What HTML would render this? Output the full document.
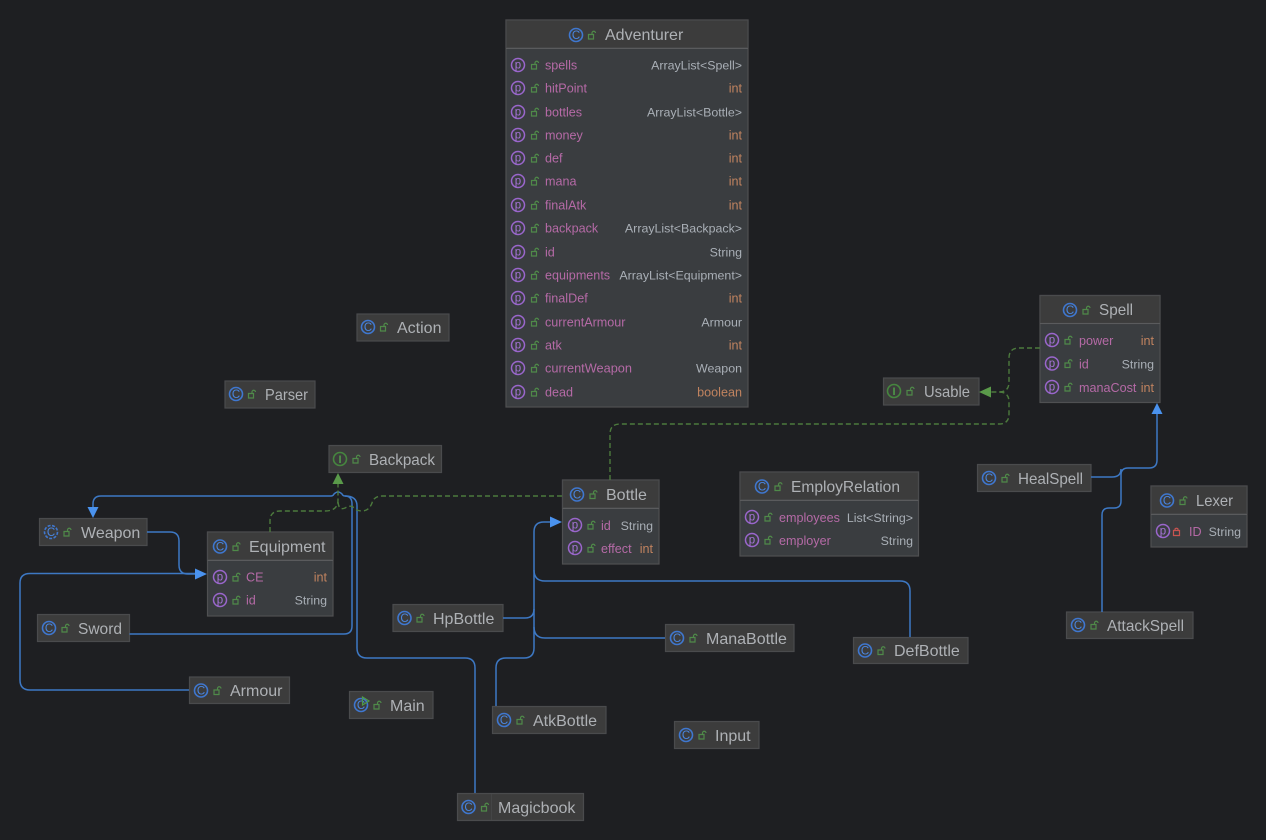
<!DOCTYPE html>
<html><head><meta charset="utf-8"><style>
html,body{margin:0;padding:0;background:#1e1f22;width:1266px;height:840px;overflow:hidden}
svg{display:block}
text{font-family:"Liberation Sans",sans-serif}
.h{fill:#3c3c3c;stroke:#4a4b4d;stroke-width:1.2}
.b{fill:#3a3d40;stroke:#4f5052;stroke-width:1.2}
.s{stroke:#5a5b5d;stroke-width:1}
.t{font-size:16px;fill:#aeb1b5}
.n{font-size:12.600px;fill:#b56aa6}
.y{font-size:12.400px;fill:#a9afb6;text-anchor:end}
.i{font-size:12.600px;fill:#c0835f;text-anchor:end}
.cc{fill:none;stroke:#3f77cf;stroke-width:1.600}
.ct{font-size:11.500px;fill:#4a86e0;text-anchor:middle}
.gc{fill:none;stroke:#46863f;stroke-width:1.600}
.gt{font-size:11px;fill:#4f9a48;text-anchor:middle;font-weight:bold}
.pc{fill:none;stroke:#9a66cc;stroke-width:1.500}
.pt{font-size:11.500px;fill:#a674d8;text-anchor:middle}
.l{fill:none;stroke:#4f8a49;stroke-width:1.200}
.bl{fill:none;stroke:#3d78c4;stroke-width:1.500}
.gd{fill:none;stroke:#4c7a3d;stroke-width:1.400;stroke-dasharray:5 3}
</style></head><body>
<svg width="1266" height="840" viewBox="0 0 1266 840" xmlns="http://www.w3.org/2000/svg">
<rect width="1266" height="840" fill="#1e1f22"/>

<!-- Adventurer -->
<rect class="b" x="506" y="20" width="242" height="387"/>
<rect class="h" x="506" y="20" width="242" height="28"/>
<line class="s" x1="506" y1="48.500" x2="748" y2="48.500"/>
<circle class="cc" cx="576" cy="35" r="6.500"/><text class="ct" x="576" y="39">C</text>
<path class="l" d="M588.500 34.500h5v4.500h-5zM592 34.500v-1.500a1.700 1.700 0 0 1 3.500 0"/>
<text class="t" x="605" y="40">Adventurer</text>

<circle class="pc" cx="518" cy="65" r="6.500"/><text class="pt" x="518" y="68.500">p</text><path class="l" d="M531.500 64.500h5v4.500h-5zM535 64.500v-1.500a1.700 1.700 0 0 1 3.500 0"/><text class="n" x="545" y="69.500">spells</text><text class="y" x="742" y="69.500">ArrayList&lt;Spell&gt;</text>
<circle class="pc" cx="518" cy="88" r="6.500"/><text class="pt" x="518" y="91.500">p</text><path class="l" d="M531.500 87.500h5v4.500h-5zM535 87.500v-1.500a1.700 1.700 0 0 1 3.500 0"/><text class="n" x="545" y="92.500">hitPoint</text><text class="i" x="742" y="92.500">int</text>
<circle class="pc" cx="518" cy="112" r="6.500"/><text class="pt" x="518" y="115.500">p</text><path class="l" d="M531.500 111.500h5v4.500h-5zM535 111.500v-1.500a1.700 1.700 0 0 1 3.500 0"/><text class="n" x="545" y="116.500">bottles</text><text class="y" x="742" y="116.500">ArrayList&lt;Bottle&gt;</text>
<circle class="pc" cx="518" cy="135" r="6.500"/><text class="pt" x="518" y="138.500">p</text><path class="l" d="M531.500 134.500h5v4.500h-5zM535 134.500v-1.500a1.700 1.700 0 0 1 3.500 0"/><text class="n" x="545" y="139.500">money</text><text class="i" x="742" y="139.500">int</text>
<circle class="pc" cx="518" cy="158" r="6.500"/><text class="pt" x="518" y="161.500">p</text><path class="l" d="M531.500 157.500h5v4.500h-5zM535 157.500v-1.500a1.700 1.700 0 0 1 3.500 0"/><text class="n" x="545" y="162.500">def</text><text class="i" x="742" y="162.500">int</text>
<circle class="pc" cx="518" cy="181" r="6.500"/><text class="pt" x="518" y="184.500">p</text><path class="l" d="M531.500 180.500h5v4.500h-5zM535 180.500v-1.500a1.700 1.700 0 0 1 3.500 0"/><text class="n" x="545" y="185.500">mana</text><text class="i" x="742" y="185.500">int</text>
<circle class="pc" cx="518" cy="205" r="6.500"/><text class="pt" x="518" y="208.500">p</text><path class="l" d="M531.500 204.500h5v4.500h-5zM535 204.500v-1.500a1.700 1.700 0 0 1 3.500 0"/><text class="n" x="545" y="209.500">finalAtk</text><text class="i" x="742" y="209.500">int</text>
<circle class="pc" cx="518" cy="228" r="6.500"/><text class="pt" x="518" y="231.500">p</text><path class="l" d="M531.500 227.500h5v4.500h-5zM535 227.500v-1.500a1.700 1.700 0 0 1 3.500 0"/><text class="n" x="545" y="232.500">backpack</text><text class="y" x="742" y="232.500">ArrayList&lt;Backpack&gt;</text>
<circle class="pc" cx="518" cy="252" r="6.500"/><text class="pt" x="518" y="255.500">p</text><path class="l" d="M531.500 251.500h5v4.500h-5zM535 251.500v-1.500a1.700 1.700 0 0 1 3.500 0"/><text class="n" x="545" y="256.500">id</text><text class="y" x="742" y="256.500">String</text>
<circle class="pc" cx="518" cy="275" r="6.500"/><text class="pt" x="518" y="278.500">p</text><path class="l" d="M531.500 274.500h5v4.500h-5zM535 274.500v-1.500a1.700 1.700 0 0 1 3.500 0"/><text class="n" x="545" y="279.500">equipments</text><text class="y" x="742" y="279.500">ArrayList&lt;Equipment&gt;</text>
<circle class="pc" cx="518" cy="298" r="6.500"/><text class="pt" x="518" y="301.500">p</text><path class="l" d="M531.500 297.500h5v4.500h-5zM535 297.500v-1.500a1.700 1.700 0 0 1 3.500 0"/><text class="n" x="545" y="302.500">finalDef</text><text class="i" x="742" y="302.500">int</text>
<circle class="pc" cx="518" cy="322" r="6.500"/><text class="pt" x="518" y="325.500">p</text><path class="l" d="M531.500 321.500h5v4.500h-5zM535 321.500v-1.500a1.700 1.700 0 0 1 3.500 0"/><text class="n" x="545" y="326.500">currentArmour</text><text class="y" x="742" y="326.500">Armour</text>
<circle class="pc" cx="518" cy="345" r="6.500"/><text class="pt" x="518" y="348.500">p</text><path class="l" d="M531.500 344.500h5v4.500h-5zM535 344.500v-1.500a1.700 1.700 0 0 1 3.500 0"/><text class="n" x="545" y="349.500">atk</text><text class="i" x="742" y="349.500">int</text>
<circle class="pc" cx="518" cy="368" r="6.500"/><text class="pt" x="518" y="371.500">p</text><path class="l" d="M531.500 367.500h5v4.500h-5zM535 367.500v-1.500a1.700 1.700 0 0 1 3.500 0"/><text class="n" x="545" y="372.500" textLength="87" lengthAdjust="spacingAndGlyphs">currentWeapon</text><text class="y" x="742" y="372.500" textLength="46" lengthAdjust="spacingAndGlyphs">Weapon</text>
<circle class="pc" cx="518" cy="392" r="6.500"/><text class="pt" x="518" y="395.500">p</text><path class="l" d="M531.500 391.500h5v4.500h-5zM535 391.500v-1.500a1.700 1.700 0 0 1 3.500 0"/><text class="n" x="545" y="396.500">dead</text><text class="i" x="742" y="396.500">boolean</text>

<!-- Spell -->
<rect class="b" x="1040" y="295.500" width="120" height="107"/>
<rect class="h" x="1040" y="295.500" width="120" height="28"/>
<line class="s" x1="1040" y1="323.500" x2="1160" y2="323.500"/>
<circle class="cc" cx="1070" cy="310" r="6.500"/><text class="ct" x="1070" y="314">C</text>
<path class="l" d="M1083 309.500h5v4.500h-5zM1086.500 309.500v-1.500a1.700 1.700 0 0 1 3.500 0"/>
<text class="t" x="1099" y="315" textLength="34" lengthAdjust="spacingAndGlyphs">Spell</text>
<circle class="pc" cx="1052" cy="340" r="6.500"/><text class="pt" x="1052" y="343.500">p</text><path class="l" d="M1065 339.500h5v4.500h-5zM1068.500 339.500v-1.500a1.700 1.700 0 0 1 3.500 0"/><text class="n" x="1079" y="345">power</text><text class="i" x="1154" y="345">int</text>
<circle class="pc" cx="1052" cy="363.500" r="6.500"/><text class="pt" x="1052" y="367">p</text><path class="l" d="M1065 363h5v4.500h-5zM1068.500 363v-1.500a1.700 1.700 0 0 1 3.500 0"/><text class="n" x="1079" y="368.500">id</text><text class="y" x="1154" y="368.500">String</text>
<circle class="pc" cx="1052" cy="387" r="6.500"/><text class="pt" x="1052" y="390.500">p</text><path class="l" d="M1065 386.500h5v4.500h-5zM1068.500 386.500v-1.500a1.700 1.700 0 0 1 3.500 0"/><text class="n" x="1079" y="392">manaCost</text><text class="i" x="1154" y="392">int</text>

<!-- Equipment -->
<rect class="b" x="207.500" y="532" width="125.500" height="84"/>
<rect class="h" x="207.500" y="532" width="125.500" height="28"/>
<line class="s" x1="207.500" y1="560.500" x2="333" y2="560.500"/>
<circle class="cc" cx="220" cy="546.500" r="6.500"/><text class="ct" x="220" y="550.500">C</text>
<path class="l" d="M233 546h5v4.500h-5zM236.500 546v-1.500a1.700 1.700 0 0 1 3.500 0"/>
<text class="t" x="249" y="552">Equipment</text>
<circle class="pc" cx="220" cy="577" r="6.500"/><text class="pt" x="220" y="580.500">p</text><path class="l" d="M233 576.500h5v4.500h-5zM236.500 576.500v-1.500a1.700 1.700 0 0 1 3.500 0"/><text class="n" x="246" y="581.500">CE</text><text class="i" x="327" y="581.500">int</text>
<circle class="pc" cx="220" cy="600" r="6.500"/><text class="pt" x="220" y="603.500">p</text><path class="l" d="M233 599.500h5v4.500h-5zM236.500 599.500v-1.500a1.700 1.700 0 0 1 3.500 0"/><text class="n" x="246" y="604.500">id</text><text class="y" x="327" y="604.500">String</text>

<!-- Bottle -->
<rect class="b" x="562.500" y="480" width="96.500" height="84"/>
<rect class="h" x="562.500" y="480" width="96.500" height="28"/>
<line class="s" x1="562.500" y1="508.500" x2="659" y2="508.500"/>
<circle class="cc" cx="577" cy="494.500" r="6.500"/><text class="ct" x="577" y="498.500">C</text>
<path class="l" d="M590 494h5v4.500h-5zM593.500 494v-1.500a1.700 1.700 0 0 1 3.500 0"/>
<text class="t" x="606" y="500">Bottle</text>
<circle class="pc" cx="575" cy="525" r="6.500"/><text class="pt" x="575" y="528.500">p</text><path class="l" d="M588 524.500h5v4.500h-5zM591.500 524.500v-1.500a1.700 1.700 0 0 1 3.500 0"/><text class="n" x="601" y="530">id</text><text class="y" x="653" y="530">String</text>
<circle class="pc" cx="575" cy="548" r="6.500"/><text class="pt" x="575" y="551.500">p</text><path class="l" d="M588 547.500h5v4.500h-5zM591.500 547.500v-1.500a1.700 1.700 0 0 1 3.500 0"/><text class="n" x="601" y="553">effect</text><text class="i" x="653" y="553">int</text>

<!-- EmployRelation -->
<rect class="b" x="740" y="472" width="178.500" height="84"/>
<rect class="h" x="740" y="472" width="178.500" height="28"/>
<line class="s" x1="740" y1="500.500" x2="918.500" y2="500.500"/>
<circle class="cc" cx="762" cy="486.500" r="6.500"/><text class="ct" x="762" y="490.500">C</text>
<path class="l" d="M775 486h5v4.500h-5zM778.500 486v-1.500a1.700 1.700 0 0 1 3.500 0"/>
<text class="t" x="791" y="492" textLength="109" lengthAdjust="spacingAndGlyphs">EmployRelation</text>
<circle class="pc" cx="752" cy="517" r="6.500"/><text class="pt" x="752" y="520.500">p</text><path class="l" d="M765 516.500h5v4.500h-5zM768.500 516.500v-1.500a1.700 1.700 0 0 1 3.500 0"/><text class="n" x="779" y="522">employees</text><text class="y" x="913" y="522">List&lt;String&gt;</text>
<circle class="pc" cx="752" cy="540" r="6.500"/><text class="pt" x="752" y="543.500">p</text><path class="l" d="M765 539.500h5v4.500h-5zM768.500 539.500v-1.500a1.700 1.700 0 0 1 3.500 0"/><text class="n" x="779" y="545">employer</text><text class="y" x="913" y="545">String</text>

<!-- Lexer -->
<rect class="b" x="1151" y="486" width="96" height="61"/>
<rect class="h" x="1151" y="486" width="96" height="28"/>
<line class="s" x1="1151" y1="514.500" x2="1247" y2="514.500"/>
<circle class="cc" cx="1167" cy="500.500" r="6.500"/><text class="ct" x="1167" y="504.500">C</text>
<path class="l" d="M1180 500h5v4.500h-5zM1183.500 500v-1.500a1.700 1.700 0 0 1 3.500 0"/>
<text class="t" x="1196" y="506" textLength="37" lengthAdjust="spacingAndGlyphs">Lexer</text>
<circle class="pc" cx="1163" cy="531" r="6.500"/><text class="pt" x="1163" y="534.500">p</text>
<path d="M1173.500 530.500h6v5h-6zM1175 530.500v-1.500a1.900 1.900 0 0 1 3 0v1.500" fill="none" stroke="#c75450" stroke-width="1.200"/>
<text class="n" x="1189" y="536">ID</text><text class="y" x="1241" y="536">String</text>

<!-- simple nodes -->
<rect class="h" x="357" y="314" width="92" height="27"/><circle class="cc" cx="368" cy="327" r="6.500"/><text class="ct" x="368" y="331">C</text><path class="l" d="M380.500 326.500h5v4.500h-5zM384 326.500v-1.500a1.700 1.700 0 0 1 3.500 0"/><text class="t" x="397" y="333">Action</text>
<rect class="h" x="225" y="381" width="90" height="27"/><circle class="cc" cx="236" cy="394" r="6.500"/><text class="ct" x="236" y="398">C</text><path class="l" d="M248.500 393.500h5v4.500h-5zM252 393.500v-1.500a1.700 1.700 0 0 1 3.500 0"/><text class="t" x="265" y="400" textLength="43" lengthAdjust="spacingAndGlyphs">Parser</text>
<rect class="h" x="883.500" y="378" width="95.500" height="27"/><circle class="gc" cx="894" cy="391" r="6.500"/><text class="gt" x="894" y="395">I</text><path class="l" d="M907 390.500h5v4.500h-5zM910.500 390.500v-1.500a1.700 1.700 0 0 1 3.500 0"/><text class="t" x="924" y="397" textLength="46" lengthAdjust="spacingAndGlyphs">Usable</text>
<rect class="h" x="329" y="445.500" width="112.500" height="27"/><circle class="gc" cx="340" cy="459" r="6.500"/><text class="gt" x="340" y="463">I</text><path class="l" d="M353 458.500h5v4.500h-5zM356.500 458.500v-1.500a1.700 1.700 0 0 1 3.500 0"/><text class="t" x="369" y="465" textLength="66" lengthAdjust="spacingAndGlyphs">Backpack</text>
<rect class="h" x="39.500" y="518.500" width="107.500" height="27"/><circle class="cc" cx="51" cy="532" r="6.500" stroke-dasharray="3 1.500"/><text class="ct" x="51" y="536">C</text><path class="l" d="M64 531.500h5v4.500h-5zM67.500 531.500v-1.500a1.700 1.700 0 0 1 3.500 0"/><text class="t" x="81" y="538">Weapon</text>
<rect class="h" x="37.500" y="614.500" width="92" height="27"/><circle class="cc" cx="49" cy="628" r="6.500"/><text class="ct" x="49" y="632">C</text><path class="l" d="M62 627.500h5v4.500h-5zM65.500 627.500v-1.500a1.700 1.700 0 0 1 3.500 0"/><text class="t" x="78" y="634" textLength="44" lengthAdjust="spacingAndGlyphs">Sword</text>
<rect class="h" x="189.500" y="677" width="100" height="26.500"/><circle class="cc" cx="201" cy="690.500" r="6.500"/><text class="ct" x="201" y="694.500">C</text><path class="l" d="M214 690h5v4.500h-5zM217.500 690v-1.500a1.700 1.700 0 0 1 3.500 0"/><text class="t" x="230" y="696">Armour</text>
<rect class="h" x="349.500" y="691.500" width="83.500" height="27"/><circle class="cc" cx="361" cy="705" r="6.500"/><text class="ct" x="361" y="709">C</text><path d="M362.500 697l6.500 4-6.500 4z" fill="none" stroke="#4f9a48" stroke-width="1.200"/><path class="l" d="M374 704.500h5v4.500h-5zM377.500 704.500v-1.500a1.700 1.700 0 0 1 3.500 0"/><text class="t" x="390" y="711">Main</text>
<rect class="h" x="393" y="604.500" width="110" height="27"/><circle class="cc" cx="404.500" cy="618" r="6.500"/><text class="ct" x="404.500" y="622">C</text><path class="l" d="M417 617.500h5v4.500h-5zM420.500 617.500v-1.500a1.700 1.700 0 0 1 3.500 0"/><text class="t" x="433" y="624">HpBottle</text>
<rect class="h" x="665.500" y="624.500" width="128.500" height="27"/><circle class="cc" cx="677" cy="638" r="6.500"/><text class="ct" x="677" y="642">C</text><path class="l" d="M690 637.500h5v4.500h-5zM693.500 637.500v-1.500a1.700 1.700 0 0 1 3.500 0"/><text class="t" x="706" y="644">ManaBottle</text>
<rect class="h" x="853.500" y="637.500" width="114.500" height="26"/><circle class="cc" cx="865" cy="650.500" r="6.500"/><text class="ct" x="865" y="654.500">C</text><path class="l" d="M878 650h5v4.500h-5zM881.500 650v-1.500a1.700 1.700 0 0 1 3.500 0"/><text class="t" x="894" y="656">DefBottle</text>
<rect class="h" x="492.500" y="706.500" width="113.500" height="27"/><circle class="cc" cx="504" cy="720" r="6.500"/><text class="ct" x="504" y="724">C</text><path class="l" d="M517 719.500h5v4.500h-5zM520.500 719.500v-1.500a1.700 1.700 0 0 1 3.500 0"/><text class="t" x="533" y="726">AtkBottle</text>
<rect class="h" x="674.500" y="721.500" width="84.500" height="27"/><circle class="cc" cx="686" cy="735" r="6.500"/><text class="ct" x="686" y="739">C</text><path class="l" d="M699 734.500h5v4.500h-5zM702.500 734.500v-1.500a1.700 1.700 0 0 1 3.500 0"/><text class="t" x="715" y="741">Input</text>
<rect class="h" x="457.500" y="793.500" width="126" height="27"/><line x1="491.500" y1="794" x2="491.500" y2="820" stroke="#444546"/><circle class="cc" cx="468.500" cy="807" r="6.500"/><text class="ct" x="468.500" y="811">C</text><path class="l" d="M481.500 806.500h5v4.500h-5zM485 806.500v-1.500a1.700 1.700 0 0 1 3.500 0"/><text class="t" x="498" y="813">Magicbook</text>
<rect class="h" x="977.500" y="464.500" width="113.500" height="27"/><circle class="cc" cx="989" cy="478" r="6.500"/><text class="ct" x="989" y="482">C</text><path class="l" d="M1002 477.500h5v4.500h-5zM1005.500 477.500v-1.500a1.700 1.700 0 0 1 3.500 0"/><text class="t" x="1018" y="484" textLength="65" lengthAdjust="spacingAndGlyphs">HealSpell</text>
<rect class="h" x="1066.500" y="612" width="126.500" height="26.500"/><circle class="cc" cx="1078" cy="625" r="6.500"/><text class="ct" x="1078" y="629">C</text><path class="l" d="M1091 624.500h5v4.500h-5zM1094.500 624.500v-1.500a1.700 1.700 0 0 1 3.500 0"/><text class="t" x="1107" y="631" textLength="77" lengthAdjust="spacingAndGlyphs">AttackSpell</text>

<!-- blue connectors -->
<path class="bl" d="M93 507V504Q93 496 101 496H331Q333 496 334 494Q338 490 342 494Q343 496 345 496Q352 496 352 504V626Q352 634 344 634H129.500"/>
<path class="bl" d="M345 496Q357 496 357 506V648Q357 658 367 658H465Q475 658 475 668V793"/>
<path class="bl" d="M147 532H170Q179 532 179 541V565Q179 574 188 574H195"/>
<path class="bl" d="M189 690H30Q20 690 20 680V583Q20 573.500 30 573.500H195"/>
<path class="bl" d="M550 522H544Q534 522 534 532V648Q534 658 524 658H506Q496 658 496 668V706"/>
<path class="bl" d="M503 618H525Q534 618 534 609"/>
<path class="bl" d="M665 638H545Q534 638 534 627"/>
<path class="bl" d="M910 637V591Q910 581 900 581H545Q534 581 534 570"/>
<path class="bl" d="M1157 414V460Q1157 468 1149 468H1128Q1121 468 1121 475V501Q1121 508 1114 508H1109Q1102 508 1102 515V612"/>
<path class="bl" d="M1091 477H1112Q1121 477 1121 469"/>

<!-- green connectors -->
<path class="gd" d="M270 532V521Q270 511 280 511H325Q338 511 338 500V484"/>
<path class="gd" d="M562 496H382Q374 496 372 503Q369 511 362 511Q356 511 353 507Q350 505 345 508Q338 511 338 500"/>
<path class="gd" d="M610 480V434Q610 424 620 424H999Q1009 424 1009 414V402Q1009 392 999 392H991"/>
<path class="gd" d="M1040 348H1019Q1009 348 1009 358V382Q1009 392 999 392"/>

<!-- arrowheads -->
<path d="M87.500 507H98.500L93 518z" fill="#4a92ee"/>
<path d="M195 568.500V579.500L207 574z" fill="#4a92ee"/>
<path d="M550 516.500V527.500L562 522z" fill="#4a92ee"/>
<path d="M1151.500 414H1162.500L1157 403z" fill="#4a92ee"/>
<path d="M332.500 484H343.500L338 473z" fill="#5a9a4a"/>
<path d="M991 386.500V397.500L979 392z" fill="#5a9a4a"/>
</svg>
</body></html>
